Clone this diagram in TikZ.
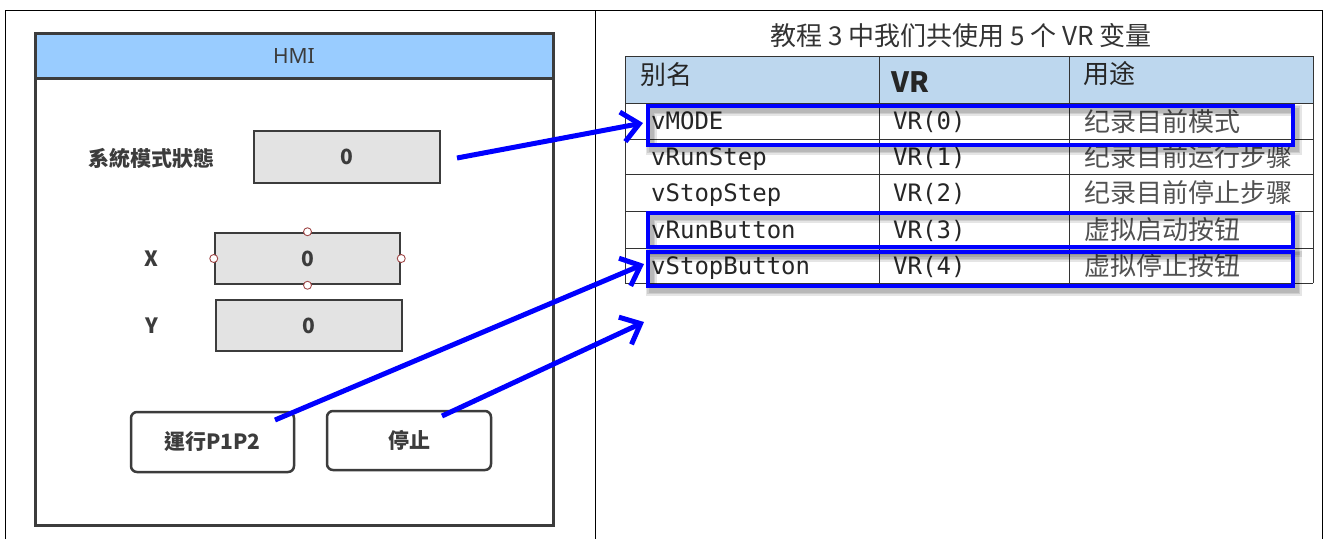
\documentclass[tikz,border=0pt]{standalone}
\usepackage{fontspec}
\setmainfont{Noto Sans}
\newfontfamily\cjk{Noto Sans CJK SC}
\newfontfamily\cjktc{Noto Sans CJK TC}
\newfontfamily\monof{DejaVu Sans Mono}
\usetikzlibrary{arrows.meta}
\definecolor{hmiblue}{HTML}{99CCFF}
\definecolor{thead}{HTML}{BDD7EE}
\definecolor{dark}{HTML}{3C3C3C}
\definecolor{boxgray}{HTML}{E3E3E3}
\definecolor{handlec}{HTML}{A04848}
\definecolor{vblue}{HTML}{0000FF}
\definecolor{gridc}{HTML}{333333}
\begin{document}
\begin{tikzpicture}[x=1pt,y=-1pt,
  hmitxt/.style={font=\cjktc\bfseries\fontsize{21}{21}\selectfont, text=dark, inner sep=0pt},
  field/.style={draw=dark, line width=2.5pt, fill=boxgray, inner sep=0pt,
    font=\cjk\bfseries\fontsize{21}{21}\selectfont, text=dark},
  btn/.style={draw=dark, line width=2.5pt, fill=white, rounded corners=6pt, inner sep=0pt,
    font=\cjktc\bfseries\fontsize{21}{21}\selectfont, text=dark},
  handle/.style={circle, draw=handlec, fill=white, line width=0.9pt, minimum size=8pt, inner sep=0pt},
  monotxt/.style={font=\monof\fontsize{24}{24}\selectfont, text=black!85, anchor=base west, inner sep=0pt},
  cntxt/.style={font=\cjk\fontsize{26}{26}\selectfont, text=black!68, anchor=base west, inner sep=0pt},
  headtxt/.style={font=\cjk\fontsize{26}{26}\selectfont, text=black!85, anchor=base west, inner sep=0pt},
  gridline/.style={draw=gridc, line width=1pt},
  hilite/.style={draw=vblue, line width=3.5pt},
  hshadow/.style={draw=black, opacity=0.10},
  link/.style={draw=vblue, line width=5pt, -{Straight Barb[length=17pt,width=30pt]}}
]
\useasboundingbox (0,0) rectangle (1328,539);
\fill[white] (0,0) rectangle (1328,539);

% outer frame
\draw[line width=1pt] (5,539) -- (5,10.5) -- (1322,10.5) -- (1322,539);
\draw[line width=1pt] (595,10.5) -- (595,539);

% ---------------- HMI panel ----------------
\node[draw=dark, line width=3pt, minimum width=518pt, minimum height=492pt, inner sep=0pt] (hmi) at (294,279) {};
\node[draw=dark, line width=3pt, fill=hmiblue, minimum width=518pt, minimum height=45pt, inner sep=0pt,
  font=\fontsize{21}{21}\selectfont, text=dark] (hmihead) at (294,55.5) {HMI};

\node[hmitxt] (modelbl) at (151,158) {系統模式狀態};
\node[field, minimum width=186pt, minimum height=52pt] (mode) at (347,157) {0};

\node[hmitxt, font=\cjk\bfseries\fontsize{21}{21}\selectfont] (xlbl) at (151,259) {X};
\node[field, minimum width=185pt, minimum height=51pt] (xbox) at (307.5,258.5) {0};
\node[handle] (hn) at (xbox.north) {};
\node[handle] (hs) at (xbox.south) {};
\node[handle] (hw) at (xbox.west) {};
\node[handle] (he) at (xbox.east) {};

\node[hmitxt, font=\cjk\bfseries\fontsize{21}{21}\selectfont] (ylbl) at (152,326) {Y};
\node[field, minimum width=186pt, minimum height=51pt] (ybox) at (309,325.5) {0};

\node[btn, minimum width=163pt, minimum height=60pt] (run) at (212.5,442) {運行P1P2};
\node[btn, minimum width=164pt, minimum height=59pt] (stop) at (409,440.5) {停止};

% ---------------- table ----------------
\node[font=\cjk\fontsize{26}{26}\selectfont, text=black!80, inner sep=0pt] (title) at (961,36) {教程 3 中我们共使用 5 个 VR 变量};

\fill[thead] (625,56) rectangle (1313,103);
% horizontal lines
\foreach \yy in {56,103,139,174,211,248,283}
  \draw[gridline] (625,\yy) -- (1313,\yy);
% vertical lines
\foreach \xx in {625,879,1069,1313}
  \draw[gridline] (\xx,56) -- (\xx,283);

\node[headtxt] (h1) at (640,84) {别名};
\node[headtxt, font=\cjk\bfseries\fontsize{28}{28}\selectfont] (h2) at (891,92) {VR};
\node[headtxt] (h3) at (1083,83) {用途};

\node[monotxt] (r1a) at (651,129.5) {vMODE};
\node[monotxt] (r1b) at (893,129.5) {VR(0)};
\node[cntxt]   (r1c) at (1084,131) {纪录目前模式};

\node[monotxt] (r2a) at (651,165) {vRunStep};
\node[monotxt] (r2b) at (893,165) {VR(1)};
\node[cntxt]   (r2c) at (1084,166.5) {纪录目前运行步骤};

\node[monotxt] (r3a) at (651,201) {vStopStep};
\node[monotxt] (r3b) at (893,201) {VR(2)};
\node[cntxt]   (r3c) at (1084,202.5) {纪录目前停止步骤};

\node[monotxt] (r4a) at (651,238) {vRunButton};
\node[monotxt] (r4b) at (893,238) {VR(3)};
\node[cntxt]   (r4c) at (1084,239.5) {虚拟启动按钮};

\node[monotxt] (r5a) at (651,274) {vStopButton};
\node[monotxt] (r5b) at (893,274) {VR(4)};
\node[cntxt]   (r5c) at (1084,275.5) {虚拟停止按钮};

% shadows of highlight boxes
\foreach \lw in {11,8,5}{
  \draw[hshadow, line width=\lw pt] (651,110) rectangle (1296,149);
  \draw[hshadow, line width=\lw pt] (651,217) rectangle (1296,251);
  \draw[hshadow, line width=\lw pt] (651,256) rectangle (1296,290);
}
% highlight boxes
\node[hilite, minimum width=645pt, minimum height=39pt, inner sep=0pt] (hl1) at (970.5,125.5) {};
\node[hilite, minimum width=645pt, minimum height=34pt, inner sep=0pt] (hl2) at (970.5,230) {};
\node[hilite, minimum width=645pt, minimum height=34pt, inner sep=0pt] (hl3) at (970.5,269) {};

% ---------------- connectors ----------------
\coordinate (a1s) at (457,158);
\coordinate (a1e) at (643,123);
\coordinate (a2s) at (275,420);
\coordinate (a2e) at (644,264);
\coordinate (a3s) at (442,416);
\coordinate (a3e) at (644,322);
\draw[link] (a1s) -- (a1e);
\draw[link] (a2s) -- (a2e);
\draw[link] (a3s) -- (a3e);
\end{tikzpicture}
\end{document}
